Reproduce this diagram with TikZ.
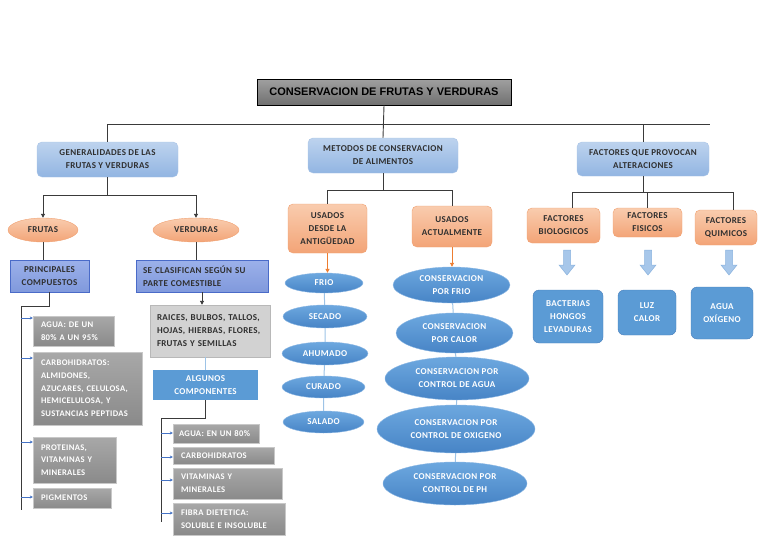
\documentclass[tikz,border=0pt]{standalone}
\usepackage{fontspec}
\setmainfont{Carlito}[LetterSpace=4]
\newfontfamily\titlefont{Liberation Sans}
\usetikzlibrary{arrows.meta,shapes.geometric,calc}
\definecolor{txtdark}{HTML}{2F2F2F}
\definecolor{ttop}{HTML}{A0A0A0}
\definecolor{tbot}{HTML}{707070}
\definecolor{lbtop}{HTML}{BDD3EE}
\definecolor{lbbot}{HTML}{92B5E2}
\definecolor{lbdraw}{HTML}{A9C4E6}
\definecolor{saltop}{HTML}{F9CCAE}
\definecolor{salbot}{HTML}{F3A477}
\definecolor{saldraw}{HTML}{F0A070}
\definecolor{pertop}{HTML}{9CB1EA}
\definecolor{perbot}{HTML}{8099DC}
\definecolor{perdraw}{HTML}{4A6BC8}
\definecolor{grtop}{HTML}{A8A8A8}
\definecolor{grbot}{HTML}{8A8A8A}
\definecolor{grdraw}{HTML}{C8C8C8}
\definecolor{lgfill}{HTML}{D2D2D2}
\definecolor{lgdraw}{HTML}{B8B8B8}
\definecolor{midblue}{HTML}{5B9BD5}
\definecolor{elltop}{HTML}{6DA8DF}
\definecolor{ellbot}{HTML}{4784C6}
\definecolor{elldraw}{HTML}{8DB8E4}
\definecolor{rdraw}{HTML}{4A7EBB}
\definecolor{paleline}{HTML}{9DC3E6}
\definecolor{listarrow}{HTML}{4472C4}
\definecolor{orangearr}{HTML}{ED7D31}
\definecolor{connc}{HTML}{3A3A3A}
\definecolor{blockfill}{HTML}{A7C7EA}
\definecolor{blockdraw}{HTML}{8AB2DE}
\tikzset{
  base/.style={inner sep=0pt, align=center, text=txtdark,
    font=\bfseries\fontsize{9}{13}\selectfont},
  titlebox/.style={base, draw=black, line width=0.8pt, top color=ttop, bottom color=tbot,
    text=black, font=\titlefont\bfseries\fontsize{11}{13}\selectfont},
  lbbox/.style={base, rounded corners=5pt, top color=lbtop, bottom color=lbbot, draw=lbdraw},
  salbox/.style={base, rounded corners=5pt, top color=saltop, bottom color=salbot, draw=saldraw},
  salell/.style={base, ellipse, top color=saltop, bottom color=salbot, draw=saldraw},
  perbox/.style={base, draw=perdraw, line width=0.8pt, top color=pertop, bottom color=perbot},
  greybox/.style={base, draw=grdraw, top color=grtop, bottom color=grbot, text=white,
    align=left, inner xsep=8pt, font=\bfseries\fontsize{8.6}{12.7}\selectfont},
  lgbox/.style={base, draw=lgdraw, fill=lgfill, align=left, inner xsep=7pt},
  mbbox/.style={base, fill=midblue, text=white},
  blell/.style={base, ellipse, top color=elltop, bottom color=ellbot, draw=elldraw, text=white},
  rbox/.style={base, rounded corners=6pt, fill=midblue, draw=rdraw, text=white},
  conn/.style={draw=connc, line width=0.9pt},
  connarr/.style={conn, -{Triangle[length=4pt,width=4pt]}},
  pale/.style={draw=paleline, line width=1pt},
  itemarrow/.style={draw=listarrow, line width=0.8pt, -{Stealth[length=3pt,width=3pt]}},
  orarrow/.style={draw=orangearr, line width=0.9pt, -{Triangle[length=4pt,width=4pt]}},
}
\newcommand{\blockarr}[2]{%
  \filldraw[fill=blockfill, draw=blockdraw, line width=0.5pt]
    (#1-3.5,#2) -- (#1+3.5,#2) -- (#1+3.5,#2+15) -- (#1+8,#2+15) -- (#1,#2+25)
    -- (#1-8,#2+15) -- (#1-3.5,#2+15) -- cycle;}
\begin{document}
\begin{tikzpicture}[x=1pt,y=-1pt]
\useasboundingbox (0,0) rectangle (768,543);
% top level
\node[titlebox, minimum width=254pt, minimum height=26pt] (title) at (384,92) {CONSERVACION DE FRUTAS Y VERDURAS};
\node[lbbox, minimum width=141pt, minimum height=35pt] (gen) at (107.5,159.5) {GENERALIDADES DE LAS\\FRUTAS Y VERDURAS};
\node[lbbox, minimum width=150pt, minimum height=35pt] (met) at (383,155.5) {METODOS DE CONSERVACION\\DE ALIMENTOS};
\node[lbbox, minimum width=132pt, minimum height=34pt] (fac) at (643,159) {FACTORES QUE PROVOCAN\\ALTERACIONES};
\coordinate (hl) at (108,124);
\coordinate (hr) at (710,124);
\draw[conn] (title.south) -- (met.north);
\draw[conn] (gen.north) -- (gen.north |- hl) -- (hr);
\draw[conn] (fac.north) -- (fac.north |- hr);
% left branch
\node[salell, minimum width=70pt, minimum height=24pt] (frutas) at (43,230) {FRUTAS};
\node[salell, minimum width=86pt, minimum height=24pt] (verduras) at (196,230) {VERDURAS};
\coordinate (g1) at (107.5,195);
\draw[conn] (gen.south) -- (g1);
\draw[connarr] (g1) -| (frutas.north);
\draw[connarr] (g1) -| (verduras.north);
\node[perbox, minimum width=79pt, minimum height=32pt] (princ) at (49.5,276) {PRINCIPALES\\COMPUESTOS};
\node[perbox, minimum width=132pt, minimum height=32pt, align=left, text width=118pt, inner xsep=7pt] (clasif) at (202,276) {SE CLASIFICAN SEGÚN SU\\PARTE COMESTIBLE};
\draw[conn] (frutas.south) -- (frutas.south |- princ.north);
\draw[conn] (verduras.south) -- (verduras.south |- clasif.north);
\node[lgbox, text width=106pt, minimum height=52pt] (raices) at (210,331) {RAICES, BULBOS, TALLOS,\\HOJAS, HIERBAS, FLORES,\\FRUTAS Y SEMILLAS};
\draw[connarr] (clasif.south) -- (clasif.south |- raices.north);
\node[mbbox, minimum width=105pt, minimum height=30pt] (algunos) at (205.5,385) {ALGUNOS\\COMPONENTES};
\draw[pale] (algunos.north |- raices.south) -- (algunos.north);
% left list
\node[greybox, text width=65pt, minimum height=30pt] (a1) at (73.5,331) {AGUA: DE UN\\80\% A UN 95\%};
\node[greybox, text width=93pt, minimum height=73pt] (a2) at (87.5,388.5) {CARBOHIDRATOS:\\ALMIDONES,\\AZUCARES, CELULOSA,\\HEMICELULOSA, Y\\SUSTANCIAS PEPTIDAS};
\node[greybox, text width=67pt, minimum height=46pt] (a3) at (74.5,460) {PROTEINAS,\\VITAMINAS Y\\MINERALES};
\node[greybox, text width=62pt, minimum height=20pt] (a4) at (72,498) {PIGMENTOS};
\coordinate (sL) at (21,306);
\coordinate (sLend) at (21,510);
\draw[conn] (princ.south) |- (sL) -- (sLend);
\draw[itemarrow] (sL |- 0,318) -- (a1.west |- 0,318);
\draw[itemarrow] (sL |- 0,358) -- (a2.west |- 0,358);
\draw[itemarrow] (sL |- 0,442) -- (a3.west |- 0,442);
\draw[itemarrow] (sL |- 0,497) -- (a4.west |- 0,497);
% right list
\node[greybox, text width=82pt, inner xsep=2pt, minimum height=19pt] (b1) at (216,433.5) {\hspace*{4pt}AGUA: EN UN 80\%};
\node[greybox, text width=85pt, minimum height=17pt] (b2) at (223.5,455.5) {CARBOHIDRATOS};
\node[greybox, text width=93pt, minimum height=31pt] (b3) at (227.5,483.5) {VITAMINAS Y\\MINERALES};
\node[greybox, text width=96pt, minimum height=32pt] (b4) at (229,519) {FIBRA DIETETICA:\\SOLUBLE E INSOLUBLE};
\coordinate (sR) at (161,418);
\coordinate (sRend) at (161,522);
\draw[conn] (algunos.south) |- (sR) -- (sRend);
\draw[itemarrow] (sR |- 0,433) -- (b1.west |- 0,433);
\draw[itemarrow] (sR |- 0,457) -- (b2.west |- 0,457);
\draw[itemarrow] (sR |- 0,480) -- (b3.west |- 0,480);
\draw[itemarrow] (sR |- 0,513) -- (b4.west |- 0,513);
% middle branch
\node[salbox, minimum width=79pt, minimum height=49pt] (desde) at (327.5,228.5) {USADOS\\DESDE LA\\ANTIGÜEDAD};
\node[salbox, minimum width=80pt, minimum height=41pt] (act) at (452,226.5) {USADOS\\ACTUALMENTE};
\coordinate (m1) at (383,190);
\draw[conn] (met.south) -- (m1);
\draw[conn] (m1) -| (desde.north);
\draw[conn] (m1) -| (act.north);
\node[blell, minimum width=78pt, minimum height=20pt] (frio) at (324,283) {FRIO};
\node[blell, minimum width=84pt, minimum height=23pt] (secado) at (325,316.5) {SECADO};
\node[blell, minimum width=86pt, minimum height=23pt] (ahumado) at (325,353.5) {AHUMADO};
\node[blell, minimum width=83pt, minimum height=22pt] (curado) at (323.5,387) {CURADO};
\node[blell, minimum width=81pt, minimum height=22pt] (salado) at (323.5,422) {SALADO};
\draw[orarrow] (desde.south) -- (desde.south |- frio.north);
\draw[pale] (frio) -- (secado) (secado) -- (ahumado) (ahumado) -- (curado) (curado) -- (salado);
\node[blell, minimum width=117pt, minimum height=36pt] (c1) at (451.5,285) {CONSERVACION\\POR FRIO};
\node[blell, minimum width=117pt, minimum height=40pt] (c2) at (454.5,333) {CONSERVACION\\POR CALOR};
\node[blell, minimum width=144pt, minimum height=43pt] (c3) at (457,378.5) {CONSERVACION POR\\CONTROL DE AGUA};
\node[blell, minimum width=158pt, minimum height=48pt] (c4) at (456,429) {CONSERVACION POR\\CONTROL DE OXIGENO};
\node[blell, minimum width=144pt, minimum height=43pt] (c5) at (455,483.5) {CONSERVACION POR\\CONTROL DE PH};
\draw[orarrow] (act.south) -- (act.south |- c1.north);
\draw[pale] (c1) -- (c2) (c2) -- (c3) (c3) -- (c4) (c4) -- (c5);
% right branch
\node[salbox, minimum width=73pt, minimum height=35pt] (bio) at (563.5,225.5) {FACTORES\\BIOLOGICOS};
\node[salbox, minimum width=69pt, minimum height=29pt] (fis) at (647.5,222.5) {FACTORES\\FISICOS};
\node[salbox, minimum width=62pt, minimum height=35pt] (qui) at (726,227.5) {FACTORES\\QUIMICOS};
\coordinate (fL) at (572,192);
\coordinate (fR) at (733,192);
\draw[conn] (fac.south) -- (fac.south |- fL);
\draw[conn] (fL) -- (fR);
\draw[conn] (fL) -- (fL |- bio.north);
\draw[conn] (fR) -- (fR |- qui.north);
\draw[conn] (fis.north |- fL) -- (fis.north);
\node[rbox, minimum width=70pt, minimum height=53pt] (r1) at (568,316.5) {BACTERIAS\\HONGOS\\LEVADURAS};
\node[rbox, minimum width=58pt, minimum height=45pt] (r2) at (647,312.5) {LUZ\\CALOR};
\node[rbox, minimum width=62pt, minimum height=52pt] (r3) at (722,313) {AGUA\\OXÍGENO};
\blockarr{567}{250}
\blockarr{648}{250}
\blockarr{729}{250}
\end{tikzpicture}
\end{document}
